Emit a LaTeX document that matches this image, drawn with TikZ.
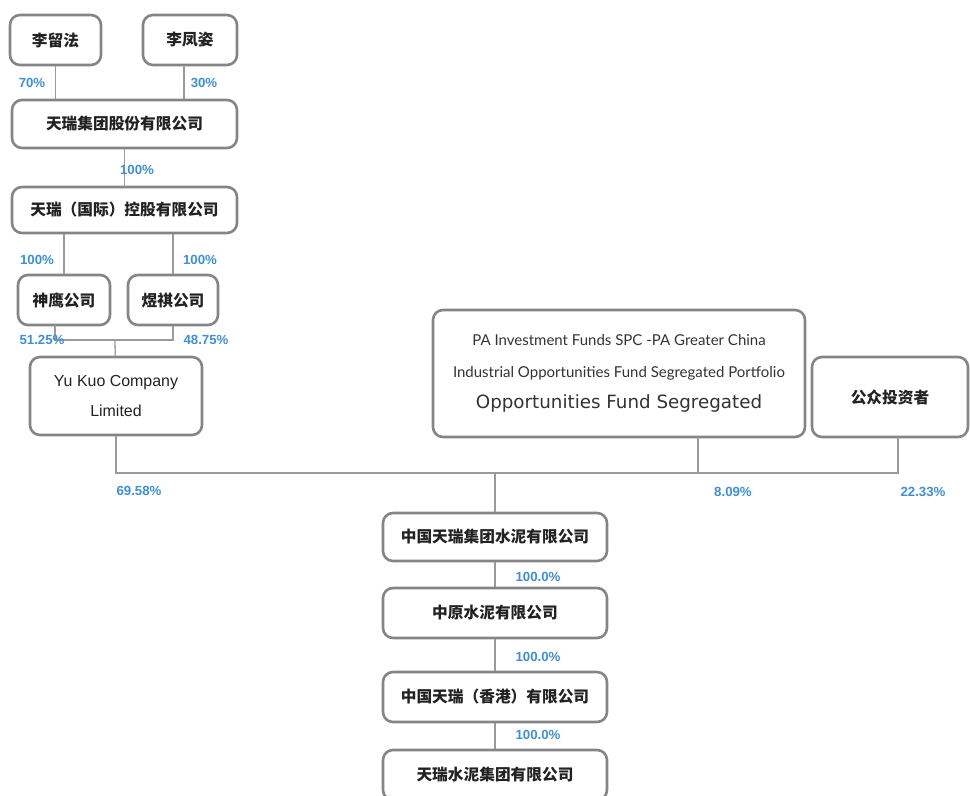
\documentclass[tikz,border=0pt]{standalone}
\usepackage{fontspec}
\setmainfont{Liberation Sans}
\newfontfamily\cjk{Noto Sans CJK SC}
\newfontfamily\pafont{Lato}
\newfontfamily\bigfont{DejaVu Sans}
\definecolor{boxgray}{HTML}{858585}
\definecolor{linegray}{HTML}{9A9A9A}
\definecolor{pctblue}{HTML}{3D8FDB}
\definecolor{txtdark}{HTML}{222222}

\begin{document}
\begin{tikzpicture}[x=0.03cm,y=-0.03cm,
    box/.style={draw=boxgray,line width=2.2pt,rounded corners=0.3cm,fill=white,
        align=center,inner sep=0pt,text=txtdark,
        font=\cjk\bfseries\fontsize{13.4}{16}\selectfont},
    pct/.style={text=pctblue,inner sep=0pt,font=\bfseries\fontsize{11.3}{12}\selectfont},
    link/.style={draw=linegray,line width=1.1pt}]
    \useasboundingbox (0,0) rectangle (970,796);
    \clip (0,0) rectangle (970,796);

    % owners of the group
    \node[box,minimum width=2.73cm,minimum height=1.5cm] (liu) at (55.5,40) {李留法};
    \node[box,minimum width=2.82cm,minimum height=1.5cm] (feng) at (190,40) {李凤姿};
    \node[box,minimum width=6.75cm,minimum height=1.44cm] (trgroup) at (124.5,124) {天瑞集团股份有限公司};
    \node[box,minimum width=6.75cm,minimum height=1.38cm] (trintl) at (124.5,210) {天瑞（国际）控股有限公司};
    \node[box,minimum width=2.76cm,minimum height=1.5cm] (shenying) at (64,300) {神鹰公司};
    \node[box,minimum width=2.7cm,minimum height=1.5cm] (yuqi) at (173,300) {煜祺公司};
    \node[box,minimum width=5.16cm,minimum height=2.34cm,
        font=\fontsize{13.6}{26.4}\selectfont] (yukuo) at (116,396) {Yu Kuo Company\\Limited};

    % other shareholders
    \node[box,minimum width=11.16cm,minimum height=3.81cm,text=black!80,
        font=\pafont\fontsize{12.8}{27.2}\selectfont] (pa) at (619,373.5)
        {PA Investment Funds SPC -PA Greater China\\
         Industrial Opportunities Fund Segregated Portfolio\\
         \bigfont\fontsize{15.6}{27.2}\selectfont Opportunities Fund Segregated};
    \node[box,minimum width=4.68cm,minimum height=2.4cm] (gz) at (890,397) {公众投资者};

    % listed company and below
    \node[box,minimum width=6.72cm,minimum height=1.44cm] (cn) at (495,537) {中国天瑞集团水泥有限公司};
    \node[box,minimum width=6.72cm,minimum height=1.5cm] (zy) at (495,613) {中原水泥有限公司};
    \node[box,minimum width=6.72cm,minimum height=1.5cm] (hk) at (495,697) {中国天瑞（香港）有限公司};
    \node[box,minimum width=6.72cm,minimum height=1.5cm] (sn) at (495,775) {天瑞水泥集团有限公司};

    \coordinate (fengfoot) at (184,65);
    \coordinate (syfoot) at (55,325);
    \coordinate (joint) at (115,340);
    \coordinate (bus) at (495,473);
    \coordinate (paleg) at (698,437);
    \coordinate (gzleg) at (898,437);

    \draw[link] (liu) -- (liu |- trgroup.north);
    \draw[link] (fengfoot) -- (fengfoot |- trgroup.north);
    \draw[link] (trgroup) -- (trintl);
    \draw[link] (shenying |- trintl.south) -- (shenying);
    \draw[link] (yuqi |- trintl.south) -- (yuqi);
    \draw[link] (syfoot) |- (joint) -| (yuqi);
    \draw[link] (joint) -- (yukuo);
    \draw[link] (yukuo) |- (bus);
    \draw[link] (bus) -- (paleg |- bus) -- (paleg);
    \draw[link] (paleg |- bus) -- (gzleg |- bus) -- (gzleg);
    \draw[link] (bus) -- (cn);
    \draw[link] (cn) -- (zy);
    \draw[link] (zy) -- (hk);
    \draw[link] (hk) -- (sn);

    % shares
    \node[pct] (p70) at (32,83) {70\%};
    \node[pct] (p30) at (204,83) {30\%};
    \node[pct] (ptrgroup) at (137,170) {100\%};
    \node[pct] (pshenying) at (37,260) {100\%};
    \node[pct] (pyuqi) at (200,260) {100\%};
    \node[pct] (p5125) at (42,340) {51.25\%};
    \node[pct] (p4875) at (206,340) {48.75\%};
    \node[pct] (pyukuo) at (139,491) {69.58\%};
    \node[pct] (ppa) at (733,492) {8.09\%};
    \node[pct] (pgz) at (923,492) {22.33\%};
    \node[pct] (pzy) at (538,577) {100.0\%};
    \node[pct] (phk) at (538,657) {100.0\%};
    \node[pct] (psn) at (538,735) {100.0\%};
\end{tikzpicture}
\end{document}
